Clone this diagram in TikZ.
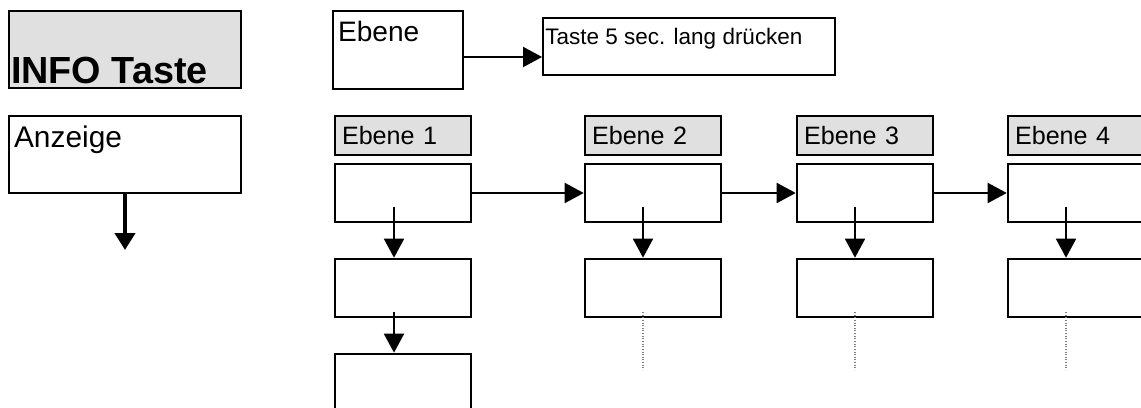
\documentclass[tikz,border=0pt]{standalone}
\usepackage{fontspec}
\setmainfont{Liberation Sans}
\usepackage{tikz}
\usetikzlibrary{arrows.meta}
\usepackage{xcolor}
\definecolor{headgray}{HTML}{E0E0E0}

\begin{document}
\begin{tikzpicture}[
    x=0.02cm, y=-0.02cm,
    box/.style={draw, line width=1.5pt, minimum width=2.72cm, minimum height=1.16cm, inner sep=0pt},
    head/.style={draw, line width=1.1pt, fill=headgray, minimum height=0.78cm, text width=2.44cm,
        inner xsep=0.14cm, inner ysep=0pt, align=left, font=\fontsize{14.3}{17}\selectfont},
    tl/.style={anchor=north west, inner xsep=0.12cm, inner ysep=0.22cm},
    arrow/.style={-{Triangle[length=0.38cm, width=0.4cm]}, line width=1.1pt},
    dots/.style={gray, line width=0.6pt, dash pattern=on 0.6pt off 0.9pt}
]
\useasboundingbox (0,0) rectangle (1141,408);
\clip (0,0) rectangle (1141,408);

% Left legend
\node[box, fill=headgray, minimum width=4.64cm, minimum height=1.54cm,
    label={[anchor=south west, inner xsep=0.06cm, inner ysep=0.1cm, font=\fontsize{21.5}{24}\selectfont\bfseries]south west:INFO Taste}]
    (info) at (125,49.5) {};
\node[box, minimum width=4.64cm, minimum height=1.54cm,
    label={[tl, font=\fontsize{17}{20}\selectfont]north west:Anzeige}]
    (anz) at (125,154.5) {};
\coordinate (anzend) at (125,250);
\draw[-{Triangle[length=0.34cm, width=0.4cm]}, line width=2.3pt] (anz.south) -- (anzend);

% Top row
\node[box, minimum width=2.6cm, minimum height=1.56cm,
    label={[tl, font=\fontsize{16}{19}\selectfont]north west:Ebene}]
    (eb) at (398,50) {};
\node[box, line width=1.1pt, minimum width=5.84cm, minimum height=1.14cm,
    label={[tl, inner xsep=0.06cm, inner ysep=0.22cm, font=\fontsize{12.8}{15}\selectfont]north west:Taste 5 sec. lang dr\"ucken}]
    (taste) at (689,46.5) {};
\draw[arrow] ([yshift=-0.14cm]eb.east) coordinate (e1) -- (e1 -| taste.west);

% Ebene headers
\node[head] (h1) at (403,135.5) {Ebene 1};
\node[head] (h2) at (653,135.5) {Ebene 2};
\node[head] (h3) at (865,135.5) {Ebene 3};
\node[head] (h4) at (1076,135.5) {Ebene 4};

% Boxes of each Ebene
\node[box] (a1) at (403,193) {};
\node[box] (b1) at (403,288) {};
\node[box] (c1) at (403,383) {};
\node[box] (a2) at (653,193) {};
\node[box] (b2) at (653,288) {};
\node[box] (a3) at (865,193) {};
\node[box] (b3) at (865,288) {};
\node[box] (a4) at (1076,193) {};
\node[box] (b4) at (1076,288) {};

% Arrows between Ebenen
\draw[arrow] (a1) -- (a2);
\draw[arrow] (a2) -- (a3);
\draw[arrow] (a3) -- (a4);

% Arrows down
\draw[arrow] ([xshift=-0.18cm, yshift=-0.28cm]a1.center) coordinate (p1) -- (p1 |- b1.north);
\draw[arrow] ([xshift=-0.18cm, yshift=-0.48cm]b1.center) coordinate (q1) -- (q1 |- c1.north);
\draw[arrow] ([xshift=-0.2cm, yshift=-0.28cm]a2.center) coordinate (p2) -- (p2 |- b2.north);
\draw[arrow] ([xshift=-0.2cm, yshift=-0.28cm]a3.center) coordinate (p3) -- (p3 |- b3.north);
\draw[arrow] ([xshift=-0.2cm, yshift=-0.28cm]a4.center) coordinate (p4) -- (p4 |- b4.north);

% Dotted continuation
\draw[dots] ([xshift=-0.2cm, yshift=-0.48cm]b2.center) -- ++(0,-1.16cm);
\draw[dots] ([xshift=-0.2cm, yshift=-0.48cm]b3.center) -- ++(0,-1.16cm);
\draw[dots] ([xshift=-0.2cm, yshift=-0.48cm]b4.center) -- ++(0,-1.16cm);

\end{tikzpicture}
\end{document}
